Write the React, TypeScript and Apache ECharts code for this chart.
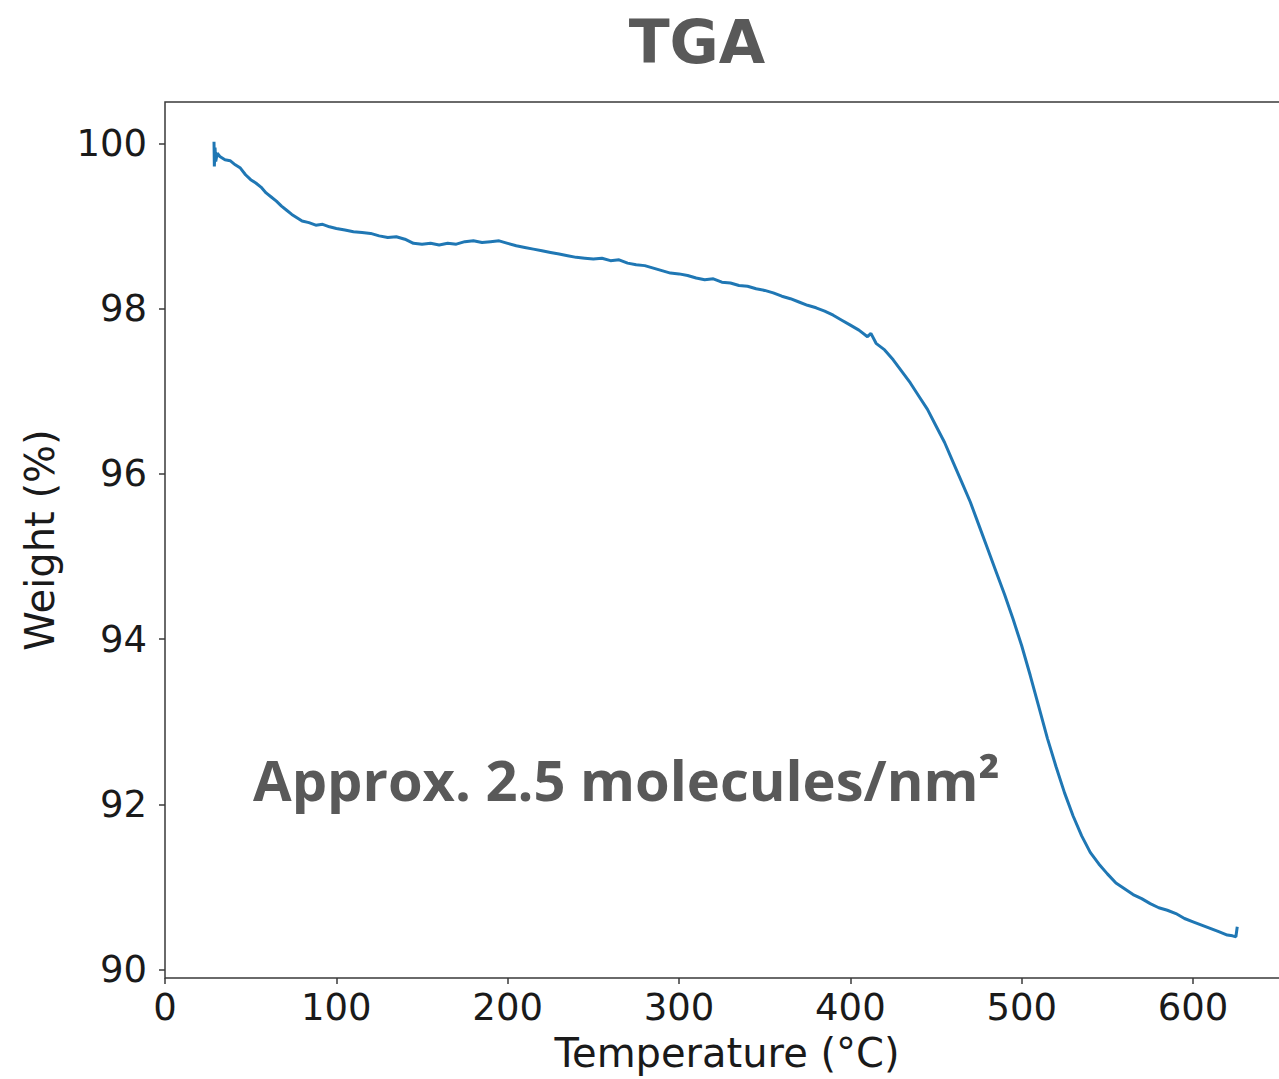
import React, { useEffect, useRef } from "react";
import * as echarts from "echarts";

const titleText = "TGA";
const annotationText = "Approx. 2.5 molecules/nm²";
const xAxisName = "Temperature (°C)";
const yAxisName = "Weight (%)";

const xTicks = [0, 100, 200, 300, 400, 500, 600];
const yTicks = [90, 92, 94, 96, 98, 100];

const temperature = [
  28.6, 28.8, 29.2, 29.6, 30.5, 32, 35, 38, 41, 44, 47, 50, 53, 56, 59, 62, 65, 68, 71, 74, 77, 80,
  84, 88, 92, 96, 100, 105, 110, 115, 120, 125, 130, 135, 140, 145, 150, 155, 160, 165, 170, 175,
  180, 185, 190, 195, 200, 205, 210, 215, 220, 225, 230, 235, 240, 245, 250, 255, 260, 265, 270,
  275, 280, 285, 290, 295, 300, 305, 310, 315, 320, 325, 330, 335, 340, 345, 350, 355, 360, 365,
  370, 375, 380, 385, 390, 395, 400, 405, 410, 412, 415, 420, 425, 430, 435, 440, 445, 450, 455,
  460, 465, 470, 475, 480, 485, 490, 495, 500, 505, 510, 515, 520, 525, 530, 535, 540, 545, 550,
  555, 560, 565, 570, 575, 580, 585, 590, 595, 600, 605, 610, 615, 620, 623, 625, 625.8,
];

const weight = [
  100.02, 99.72, 99.95, 99.78, 99.88, 99.84, 99.8, 99.79, 99.74, 99.7, 99.62, 99.56, 99.52, 99.47,
  99.4, 99.35, 99.3, 99.24, 99.19, 99.14, 99.1, 99.06, 99.04, 99.01, 99.02, 98.99, 98.97, 98.95,
  98.93, 98.92, 98.91, 98.88, 98.86, 98.87, 98.84, 98.79, 98.78, 98.79, 98.77, 98.79, 98.78, 98.81,
  98.82, 98.8, 98.81, 98.82, 98.79, 98.76, 98.74, 98.72, 98.7, 98.68, 98.66, 98.64, 98.62, 98.61,
  98.6, 98.61, 98.58, 98.59, 98.55, 98.53, 98.52, 98.49, 98.46, 98.43, 98.42, 98.4, 98.37, 98.35,
  98.36, 98.32, 98.31, 98.28, 98.27, 98.24, 98.22, 98.19, 98.15, 98.12, 98.08, 98.04, 98.01, 97.97,
  97.92, 97.86, 97.8, 97.74, 97.66, 97.7, 97.58, 97.5, 97.38, 97.24, 97.1, 96.94, 96.78, 96.58,
  96.38, 96.14, 95.9, 95.66, 95.38, 95.1, 94.82, 94.54, 94.24, 93.92, 93.56, 93.18, 92.8, 92.46,
  92.14, 91.86, 91.62, 91.42, 91.28, 91.16, 91.05, 90.98, 90.91, 90.86, 90.8, 90.75, 90.72, 90.68,
  90.62, 90.58, 90.54, 90.5, 90.46, 90.42, 90.41, 90.4, 90.52,
];

export default function App() {
  const ref = useRef<HTMLDivElement>(null);

  useEffect(() => {
    if (!ref.current) return;
    const chart = echarts.init(ref.current, null, { renderer: "svg" });
    const data = temperature.map((t, i) => [t, weight[i]]);
    const axisColor = "#3a3a3a";
    const labelFont = "DejaVu Sans";
    chart.setOption({
      animation: false,
      backgroundColor: "#ffffff",
      grid: {
        left: 165,
        top: 102,
        bottom: 101,
        right: 5,
        show: true,
        borderColor: axisColor,
        borderWidth: 1.5,
        containLabel: false,
      },
      xAxis: {
        type: "value",
        min: 0,
        max: 656,
        name: xAxisName,
        nameLocation: "middle",
        nameGap: 55,
        nameTextStyle: { fontFamily: labelFont, fontSize: 40, color: "#1a1a1a" },
        axisLine: { show: false },
        splitLine: { show: false },
        axisTick: {
          show: true,
          length: 6,
          inside: false,
          customValues: xTicks,
          lineStyle: { color: axisColor, width: 1.5 },
        },
        axisLabel: {
          customValues: xTicks,
          margin: 11,
          fontFamily: labelFont,
          fontSize: 37,
          color: "#1a1a1a",
        },
      },
      yAxis: {
        type: "value",
        min: 89.9,
        max: 100.5,
        name: yAxisName,
        nameLocation: "middle",
        nameGap: 105,
        nameTextStyle: { fontFamily: labelFont, fontSize: 40, color: "#1a1a1a" },
        axisLine: { show: false },
        splitLine: { show: false },
        axisTick: {
          show: true,
          length: 6,
          inside: false,
          customValues: yTicks,
          lineStyle: { color: axisColor, width: 1.5 },
        },
        axisLabel: {
          customValues: yTicks,
          margin: 18,
          fontFamily: labelFont,
          fontSize: 37,
          color: "#1a1a1a",
        },
      },
      series: [
        {
          type: "line",
          data,
          showSymbol: false,
          symbol: "none",
          lineStyle: { color: "#1f77b4", width: 3 },
          clip: true,
        },
      ],
      graphic: [
        {
          type: "text",
          x: 697,
          y: 42,
          style: {
            text: titleText,
            fontFamily: "DejaVu Sans",
            fontWeight: "bold",
            fontSize: 60,
            fill: "#595959",
            align: "center",
            verticalAlign: "middle",
          },
        },
        {
          type: "text",
          x: 253,
          y: 779,
          style: {
            text: annotationText,
            fontFamily: "Open Sans",
            fontWeight: "bold",
            fontSize: 56,
            fill: "#595959",
            align: "left",
            verticalAlign: "middle",
          },
        },
      ],
    });
    return () => chart.dispose();
  }, []);

  return (
    <div
      style={{
        position: "absolute",
        left: 0,
        top: 0,
        width: 1279,
        height: 1079,
        overflow: "hidden",
      }}
    >
      <div ref={ref} style={{ width: 1294, height: 1079 }} />
    </div>
  );
}
